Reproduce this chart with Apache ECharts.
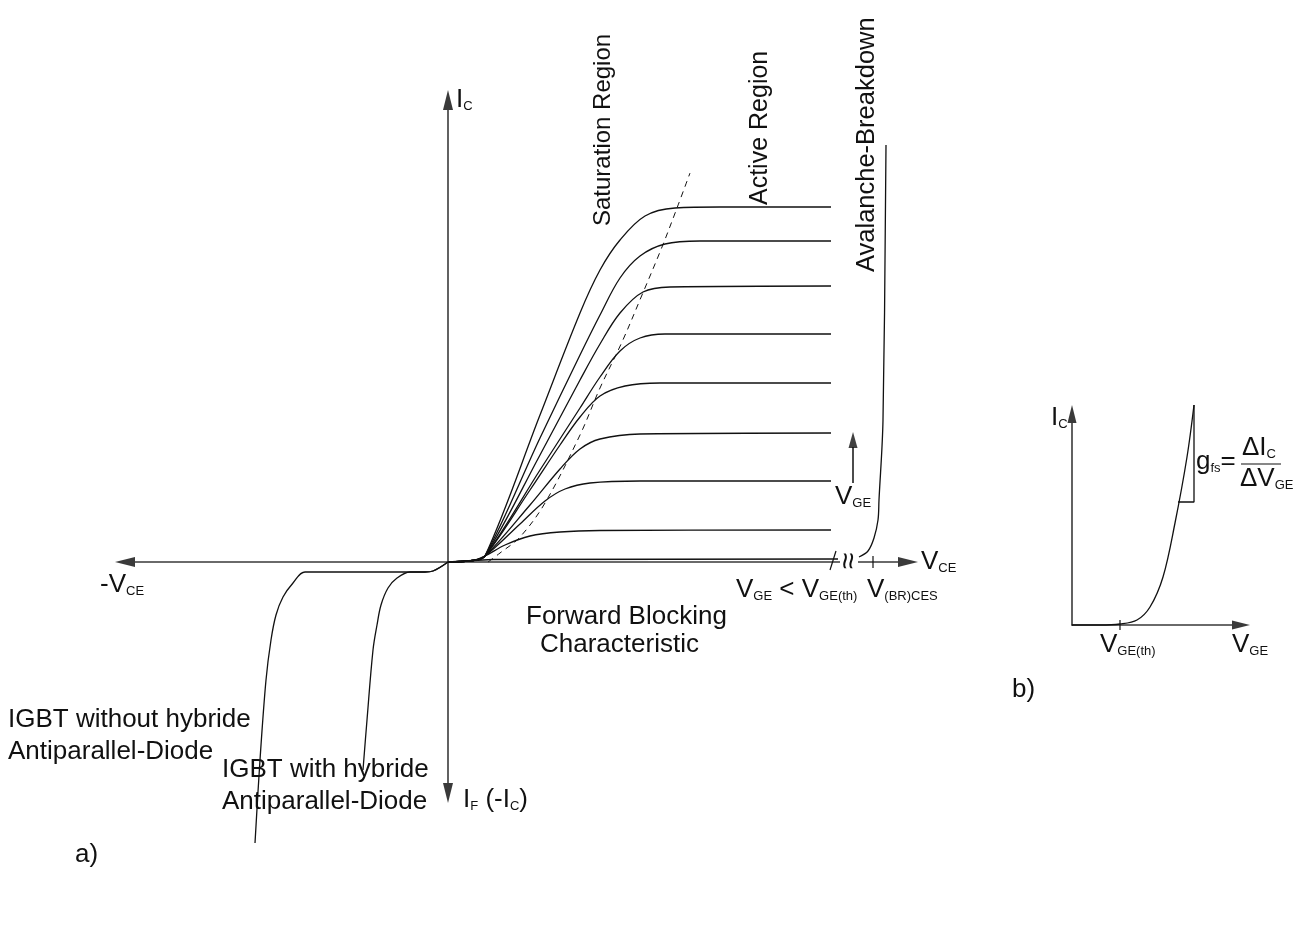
<!DOCTYPE html>
<html>
<head>
<meta charset="utf-8">
<title>IGBT characteristics</title>
<script src="https://cdn.jsdelivr.net/npm/echarts@6.0.0/dist/echarts.min.js"></script>
<style>
  html, body { margin: 0; padding: 0; background: #fff; }
  #chart { width: 1301px; height: 933px; }
</style>
</head>
<body>
<div id="chart"></div>
<script>
// a) output characteristic  (x = V_CE, y = I_C, arbitrary units)
const curveVge1 = [[0, 0], [0.5, 0.03], [0.74, 0.12], [1.84, 2.94], [2.64, 4.98], [3.04, 5.84], [3.44, 6.44], [3.94, 6.92], [4.54, 7.08], [5.44, 7.10], [7.66, 7.10]];
const curveVge2 = [[0, 0], [0.5, 0.03], [0.74, 0.12], [1.84, 2.48], [2.64, 4.14], [3.04, 4.94], [3.44, 5.68], [3.84, 6.12], [4.34, 6.36], [5.04, 6.42], [7.66, 6.42]];
const curveVge3 = [[0, 0], [0.5, 0.03], [0.74, 0.12], [1.84, 2.14], [2.64, 3.64], [3.04, 4.36], [3.44, 4.98], [3.90, 5.40], [4.44, 5.50], [7.66, 5.52]];
const curveVge4 = [[0, 0], [0.5, 0.03], [0.74, 0.12], [1.84, 1.84], [2.64, 3.08], [3.04, 3.70], [3.44, 4.22], [3.84, 4.48], [4.34, 4.56], [7.66, 4.56]];
const curveVge5 = [[0, 0], [0.5, 0.03], [0.74, 0.12], [1.64, 1.44], [2.24, 2.34], [2.64, 2.90], [3.04, 3.32], [3.54, 3.52], [4.24, 3.58], [7.66, 3.58]];
const curveVge6 = [[0, 0], [0.5, 0.03], [0.74, 0.12], [1.64, 1.14], [2.24, 1.86], [2.64, 2.26], [3.04, 2.46], [3.84, 2.56], [7.66, 2.58]];
const curveVge7 = [[0, 0], [0.5, 0.03], [0.74, 0.12], [1.44, 0.76], [1.94, 1.22], [2.34, 1.46], [2.84, 1.58], [3.84, 1.62], [7.66, 1.62]];
const curveVge8 = [[0, 0], [0.5, 0.03], [0.74, 0.12], [1.14, 0.34], [1.64, 0.52], [2.24, 0.60], [3.04, 0.63], [7.66, 0.64]];
const forwardBlocking = [[0, 0], [0.5, 0.03], [0.9, 0.05], [7.8, 0.06]];
const saturationBorder = [[0.80, 0.00], [1.04, 0.18], [1.44, 0.50], [1.94, 1.18], [2.64, 2.54], [3.04, 3.48], [3.48, 4.40], [3.88, 5.34], [4.28, 6.30], [4.58, 7.08], [4.84, 7.78]];
const avalanche = [[8.22, 0.10], [8.40, 0.22], [8.52, 0.48], [8.60, 0.84], [8.62, 1.24], [8.70, 2.84], [8.76, 8.34]];
const diodeWith = [[0, 0], [-0.30, -0.18], [-0.46, -0.20], [-0.76, -0.20], [-1.02, -0.32], [-1.20, -0.52], [-1.34, -0.86], [-1.42, -1.26], [-1.50, -1.76], [-1.62, -3.16], [-1.70, -4.16]];
const diodeWithout = [[0, 0], [-0.30, -0.18], [-0.46, -0.20], [-2.86, -0.20], [-3.10, -0.42], [-3.30, -0.70], [-3.44, -1.06], [-3.54, -1.56], [-3.64, -2.36], [-3.76, -3.96], [-3.86, -5.62]];
const breakSlash = [[7.64, -0.16], [7.76, 0.22]];
const brTick = [[8.50, -0.12], [8.50, 0.12]];
const vgeArrowShaft = [[8.10, 1.58], [8.10, 2.30]];
const vgeArrowHead = [[8.10, 2.44]];
const axisRangeA = {xMin: -6.46, xMax: 9.2, yMin: -4.62, yMax: 9.24};

// b) transfer characteristic  (x = V_GE, y = I_C)
const transferCurve = [[0, 0], [1.4, 0], [2.4, 0.05], [3.25, 0.25], [3.9, 0.9], [4.55, 2.4], [5.15, 5.1], [5.75, 8.4], [6.1, 11.0]];
const gfsTriangle = [[6.1, 11.0], [6.1, 6.15], [5.3, 6.15]];
const vgeThTick = [[2.4, -0.25], [2.4, 0.25]];
const axisRangeB = {xMin: 0, xMax: 8.45, yMin: 0, yMax: 10.55};

const FONT = '"Liberation Sans", Arial, sans-serif';
const INK = '#111';

const rich = {
    m: {fontSize: 26, fontFamily: FONT, color: INK, lineHeight: 26},
    s: {fontSize: 13, fontFamily: FONT, color: INK, lineHeight: 12, verticalAlign: 'bottom'}
};

//  坐标轴 (带箭头)
function arrowAxis(gridIndex, min, max, symbols, size) {
    return {
        type: 'value',
        gridIndex: gridIndex,
        min: min,
        max: max,
        axisLine: {
            show: true,
            onZero: true,
            symbol: symbols,
            symbolSize: size,
            lineStyle: {color: '#3a3a3a', width: 1.6}
        },
        axisTick: {show: false},
        axisLabel: {show: false},
        splitLine: {show: false}
    };
}

function curve(data, xi, extra) {
    return Object.assign({
        type: 'line',
        xAxisIndex: xi,
        yAxisIndex: xi,
        data: data,
        smooth: 0.35,
        symbol: 'none',
        clip: false,
        silent: true,
        lineStyle: {color: INK, width: 1.3}
    }, extra || {});
}

function text(x, y, str, size, extra) {
    return Object.assign({
        type: 'text',
        x: x,
        y: y,
        z: 100,
        silent: true,
        style: {
            text: str,
            rich: rich,
            fontSize: size || 26,
            fontFamily: FONT,
            fill: INK,
            lineHeight: 32,
            align: 'left',
            textAlign: 'left',
            verticalAlign: 'middle',
            textVerticalAlign: 'middle'
        }
    }, extra || {});
}

const chart = echarts.init(document.getElementById('chart'));
chart.setOption({
    animation: false,
    backgroundColor: '#fff',
    grid: [
        {left: 125, top: 100, width: 783, height: 693},
        {left: 1072, top: 414, width: 169, height: 211}
    ],
    xAxis: [
        arrowAxis(0, axisRangeA.xMin, axisRangeA.xMax, ['triangle', 'triangle'], [10, 20]),
        arrowAxis(1, axisRangeB.xMin, axisRangeB.xMax, ['none', 'triangle'], [9, 18])
    ],
    yAxis: [
        arrowAxis(0, axisRangeA.yMin, axisRangeA.yMax, ['triangle', 'triangle'], [10, 20]),
        arrowAxis(1, axisRangeB.yMin, axisRangeB.yMax, ['none', 'triangle'], [9, 18])
    ],
    series: [
        curve(forwardBlocking, 0, {
            smooth: false,
            //  轴断开处
            markArea: {
                silent: true,
                itemStyle: {color: '#fff'},
                data: [[{coord: [7.84, -0.14]}, {coord: [8.20, 0.14]}]]
            }
        }),
        curve(curveVge8, 0),
        curve(curveVge7, 0),
        curve(curveVge6, 0),
        curve(curveVge5, 0),
        curve(curveVge4, 0),
        curve(curveVge3, 0),
        curve(curveVge2, 0),
        curve(curveVge1, 0),
        curve(saturationBorder, 0, {lineStyle: {color: INK, width: 1, type: [6, 5]}}),
        curve(avalanche, 0),
        curve(diodeWith, 0),
        curve(diodeWithout, 0),
        curve(breakSlash, 0, {smooth: false, lineStyle: {color: INK, width: 1.2}}),
        curve(brTick, 0, {smooth: false, lineStyle: {color: INK, width: 1.2}}),
        curve(vgeArrowShaft, 0, {smooth: false, lineStyle: {color: INK, width: 1.5}}),
        {
            type: 'scatter',
            xAxisIndex: 0,
            yAxisIndex: 0,
            data: vgeArrowHead,
            symbol: 'triangle',
            symbolSize: [9, 16],
            silent: true,
            itemStyle: {color: INK}
        },
        curve(transferCurve, 1),
        curve(gfsTriangle, 1, {smooth: false}),
        curve(vgeThTick, 1, {smooth: false, lineStyle: {color: INK, width: 1.2}})
    ],
    graphic: [
        text(456, 100, '{m|I}{s|C}'),
        text(100, 585, '{m|-V}{s|CE}'),
        text(921, 562, '{m|V}{s|CE}'),
        text(736, 590, '{m|V}{s|GE}{m| < V}{s|GE(th)}'),
        text(867, 590, '{m|V}{s|(BR)CES}'),
        text(835, 497, '{m|V}{s|GE}'),
        text(526, 617, 'Forward Blocking'),
        text(540, 645, 'Characteristic'),
        text(8, 736, 'IGBT without hybride\nAntiparallel-Diode'),
        text(222, 786, 'IGBT with hybride\nAntiparallel-Diode'),
        text(463, 800, '{m|I}{s|F}{m| (-I}{s|C}{m|)}'),
        text(75, 855, 'a)'),
        text(1012, 690, 'b)'),
        text(603, 226, 'Saturation Region', 24, {rotation: Math.PI / 2}),
        text(760, 205, 'Active Region', 25, {rotation: Math.PI / 2}),
        text(867, 272, 'Avalanche-Breakdown', 25.5, {rotation: Math.PI / 2}),
        text(850, 561, '≈', 30, {rotation: Math.PI / 2, style: {text: '≈', fontSize: 30, fontFamily: FONT, fill: INK, align: 'center', verticalAlign: 'middle'}}),
        text(1051, 418, '{m|I}{s|C}'),
        text(1196, 462, '{m|g}{s|fs}{m|=}'),
        text(1242, 448, '{m|ΔI}{s|C}'),
        text(1240, 479, '{m|ΔV}{s|GE}'),
        {type: 'line', z: 100, silent: true, shape: {x1: 1241, y1: 464, x2: 1281, y2: 464}, style: {stroke: INK, lineWidth: 1.2}},
        text(1100, 645, '{m|V}{s|GE(th)}'),
        text(1232, 645, '{m|V}{s|GE}')
    ]
});
</script>
</body>
</html>
